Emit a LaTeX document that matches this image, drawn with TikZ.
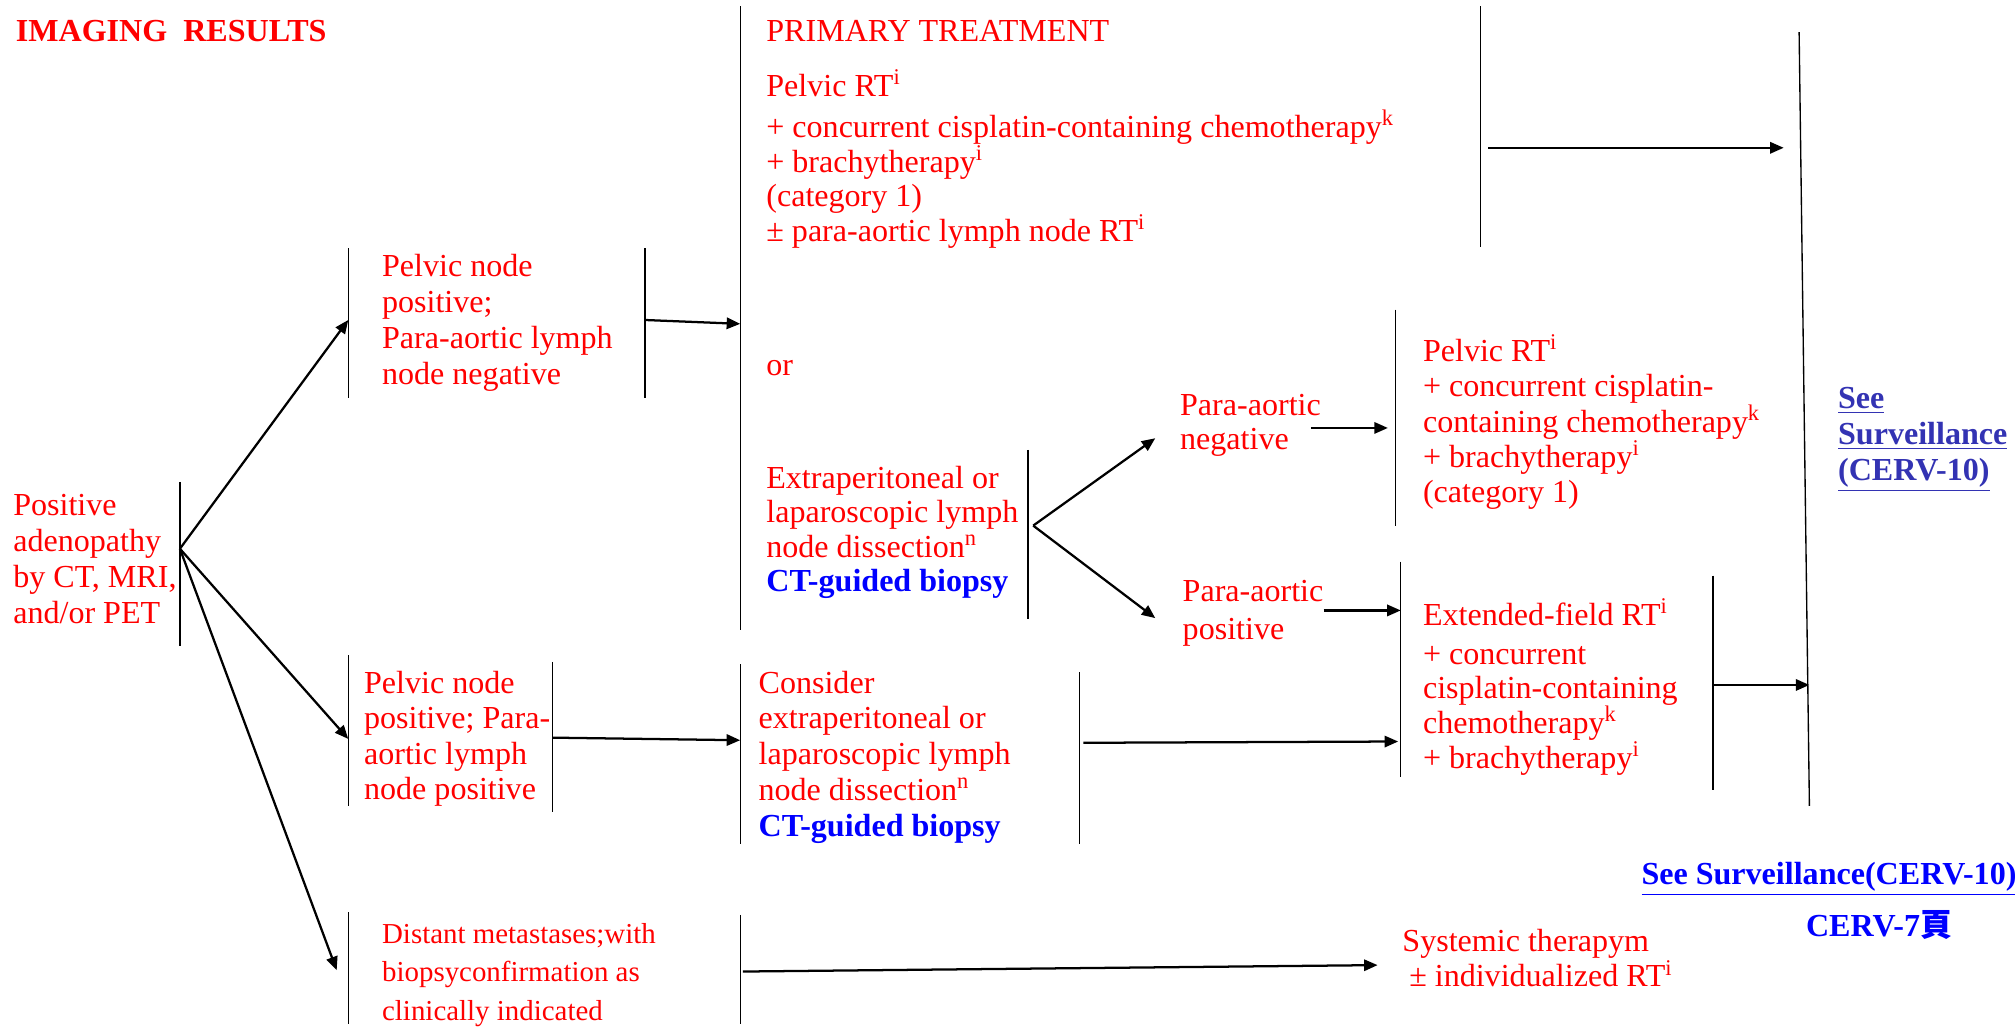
\documentclass[tikz,border=0pt]{standalone}
\usepackage{fontspec}
\setmainfont{Liberation Serif}
\newfontfamily\cjkfont{Noto Sans CJK TC}
\usetikzlibrary{arrows.meta,positioning,calc}
\definecolor{txtred}{HTML}{FF0000}
\definecolor{linkblue}{HTML}{3333B3}
\definecolor{ctblue}{HTML}{0000FF}
\newcommand{\ctbiopsy}{\textcolor{ctblue}{\bfseries CT-guided biopsy}}

\begin{document}
\begin{tikzpicture}[x=0.02cm, y=-0.02cm,
  txt/.style={text=txtred, align=left, anchor=base west, inner sep=0pt,
              font=\fontsize{14.2}{15.9}\selectfont},
  small/.style={font=\fontsize{12.8}{17}\selectfont},
  head/.style={txt, font=\fontsize{14.2}{15.9}\selectfont\bfseries},
  link/.style={txt, text=linkblue, font=\fontsize{14.2}{15.9}\selectfont\bfseries},
  bar/.style={line width=0.6pt},
  arr/.style={-{Triangle[length=6pt,width=5pt]}, line width=1pt}]
\useasboundingbox (0,0) rectangle (1568,799);

% ==================================================== headings
\node[head] (imgres) at (12,32) {IMAGING\ \ RESULTS};
\node[txt] (primtx) at (596,32) {PRIMARY TREATMENT};

% ==================================================== imaging results
% (multi-line texts sit on the baseline of their last line)
\node[txt] (adeno) at (10,485)
  {Positive\\ adenopathy\\ by CT, MRI,\\ and/or PET};
\node[txt] (pnneg) at (297,299)
  {Pelvic node\\ positive;\\ Para-aortic lymph\\ node negative};
\node[txt, font=\fontsize{14.2}{15.6}\selectfont] (pnpos) at (283,622)
  {Pelvic node\\ positive; Para-\\ aortic lymph\\ node positive};
\node[txt, small] (distmet) at (297,794)
  {Distant metastases;with\\ biopsyconfirmation as\\ clinically indicated};

% ==================================================== primary treatment
\node[txt] (pelrt) at (596,75) {Pelvic RT\textsuperscript{i}};
\node[txt, font=\fontsize{14.2}{15.4}\selectfont] (chemo) at (596,188)
  {+ concurrent cisplatin-containing chemotherapy\textsuperscript{k}\\
   + brachytherapy\textsuperscript{i}\\
   (category 1)\\
   ± para-aortic lymph node RT\textsuperscript{i}};
\node[txt] (orlbl) at (596,292) {or};
\node[txt, font=\fontsize{14.2}{15.1}\selectfont] (extrap) at (596,460)
  {Extraperitoneal or\\ laparoscopic lymph\\ node dissection\textsuperscript{n}\\ \ctbiopsy};
\node[txt] (consid) at (590,651)
  {Consider\\ extraperitoneal or\\ laparoscopic lymph\\
   node dissection\textsuperscript{n}\\ \ctbiopsy};

% para-aortic branches
\node[txt, font=\fontsize{14.2}{15.3}\selectfont] (panneg) at (918,350)
  {Para-aortic\\ negative};
\node[txt, font=\fontsize{14.2}{17}\selectfont] (panpos) at (920,498)
  {Para-aortic\\ positive};
\node[txt, font=\fontsize{14.2}{15.6}\selectfont] (pelrtb) at (1107,391)
  {Pelvic RT\textsuperscript{i}\\ + concurrent cisplatin-\\
   containing chemotherapy\textsuperscript{k}\\ + brachytherapy\textsuperscript{i}\\
   (category 1)};
\node[txt, font=\fontsize{14.2}{15.4}\selectfont] (extfld) at (1107,598)
  {Extended-field RT\textsuperscript{i}\\[1.7pt] + concurrent\\
   cisplatin-containing\\ chemotherapy\textsuperscript{k}\\
   + brachytherapy\textsuperscript{i}};
\node[txt] (systx) at (1091,768)
  {Systemic therapym\\ \hspace{3pt}± individualized RT\textsuperscript{i}};

% ==================================================== surveillance
\node[link] (seesurv) at (1430,374)
  {\underline{See}\\ \underline{Surveillance}\\ \underline{(CERV-10)}};
\node[link, text=ctblue] (seesurvb) at (1277,688)
  {\underline{See Surveillance(CERV-10)}};
\node[link, text=ctblue] (cervpg) at (1405,729) {CERV-7{\cjkfont 頁}};

% ==================================================== bars
\draw[bar] (140,375) -- (140,503);
\draw[bar] (271,193) -- (271,310);
\draw[bar] (502,193) -- (502,310);
\draw[bar] (271,510) -- (271,627);
\draw[bar] (430,515) -- (430,632);
\draw[bar] (271,710) -- (271,797);
\draw[bar] (576,5) -- (576,490);
\draw[bar] (1152,5) -- (1152,192);
\draw[bar] (800,350) -- (800,482);
\draw[bar] (1086,241) -- (1086,409);
\draw[bar] (1090,437) -- (1090,605);
\draw[bar] (1333,448) -- (1333,615);
\draw[bar] (576,517) -- (576,657);
\draw[bar] (840,523) -- (840,657);
\draw[bar] (576,712) -- (576,797);
\draw[bar] (1400,25) -- (1408,627);

% ==================================================== connector ends
\coordinate (adenoR) at (140,427);
\coordinate (pnnegL) at (271,249);
\coordinate (pnposL) at (271,575);
\coordinate (distL) at (262,755);
\coordinate (pnnegR) at (502,249);
\coordinate (primL) at (576,252);
\coordinate (chemoR) at (1158,115);
\coordinate (survT) at (1388,115);
\coordinate (extrapR) at (804,409);
\coordinate (pannegL) at (899,341);
\coordinate (panposL) at (899,481);
\coordinate (pannegR) at (1020,333);
\coordinate (pelrtbL) at (1080,333);
\coordinate (panposR) at (1030,475);
\coordinate (extfldL) at (1090,475);
\coordinate (extfldR) at (1333,533);
\coordinate (survB) at (1408,533);
\coordinate (pnposR) at (430,574);
\coordinate (considL) at (576,576);
\coordinate (considR) at (843,578);
\coordinate (extfldL2) at (1088,577);
\coordinate (distR) at (578,756);
\coordinate (systxL) at (1072,751);

% ==================================================== arrows
\draw[arr] (adenoR) -- (pnnegL);
\draw[arr] (adenoR) -- (pnposL);
\draw[arr] (adenoR) -- (distL);
\draw[arr] (pnnegR) -- (primL);
\draw[arr] (chemoR) -- (survT);
\draw[arr] (extrapR) -- (pannegL);
\draw[arr] (extrapR) -- (panposL);
\draw[arr] (pannegR) -- (pelrtbL);
\draw[arr] (panposR) -- (extfldL);
\draw[arr] (extfldR) -- (survB);
\draw[arr] (pnposR) -- (considL);
\draw[arr] (considR) -- (extfldL2);
\draw[arr] (distR) -- (systxL);

\end{tikzpicture}
\end{document}
